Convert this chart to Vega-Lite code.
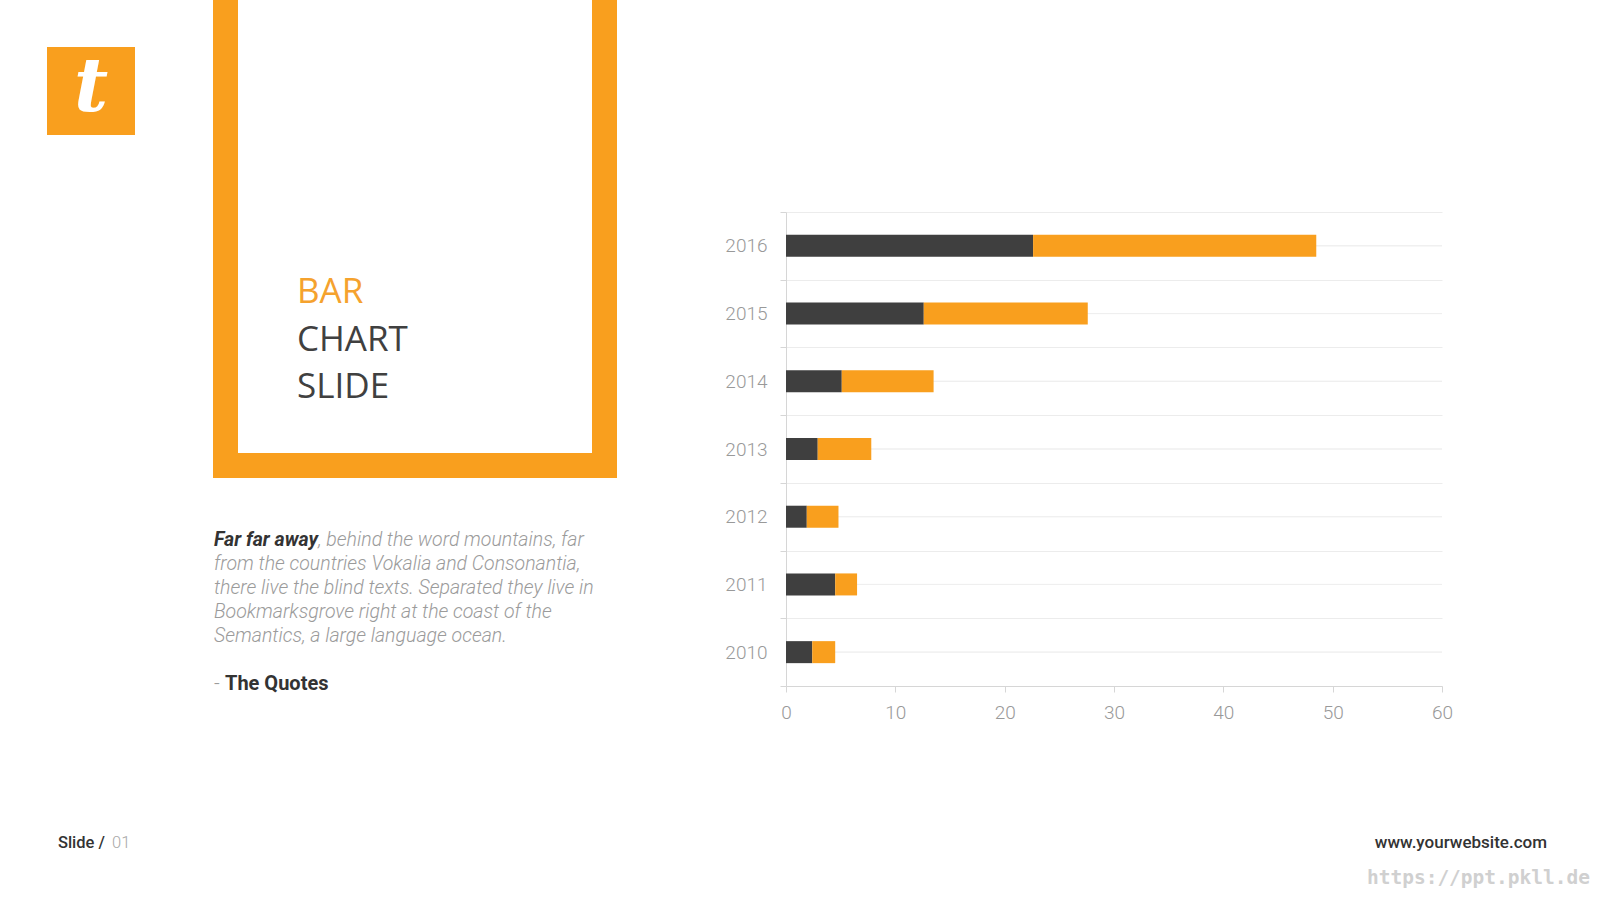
{
  "$schema": "https://vega.github.io/schema/vega-lite/v6.json",
  "background": "#ffffff",
  "padding": {"left": 47, "top": 0, "right": 10, "bottom": 4},
  "config": {"view": {"stroke": null}},
  "spacing": 0,
  "hconcat": [
    {
      "bounds": "flush",
      "spacing": 0,
      "vconcat": [
        {"width": 88, "height": 47, "data": {"values": [{}]}, "mark": {"type": "text", "text": ""}, "encoding": {}},
        {
          "width": 88, "height": 88, "data": {"values": [{}]},
          "layer": [
            {"mark": {"type": "rect", "color": "#f99f1e"}, "encoding": {}},
            {"mark": {"type": "text", "text": "t", "font": "DejaVu Serif", "fontStyle": "italic", "fontWeight": "bold", "fontSize": 74, "color": "#ffffff", "align": "center", "baseline": "middle", "dy": -2}, "encoding": {}}
          ]
        },
        {"width": 88, "height": 701, "data": {"values": [{}]}, "mark": {"type": "text", "text": ""}, "encoding": {}},
        {
          "width": 58, "height": 24, "data": {"values": [{}]},
          "layer": [
            {"mark": {"type": "text", "text": "Slide /", "align": "right", "baseline": "alphabetic", "font": "Roboto", "fontSize": 16.5, "fontWeight": 500, "color": "#333333"}, "encoding": {"x": {"value": "width"}}},
            {"mark": {"type": "text", "text": "01", "align": "left", "baseline": "alphabetic", "dx": 7, "font": "Roboto", "fontSize": 16.5, "fontWeight": 300, "color": "#a8a8a8"}, "encoding": {"x": {"value": "width"}}}
          ]
        }
      ]
    },
    {"width": 78, "height": 20, "data": {"values": [{}]}, "mark": {"type": "text", "text": ""}, "encoding": {}},
    {
      "spacing": 0,
      "vconcat": [
        {
          "spacing": 0,
          "hconcat": [
            {"width": 25, "height": 478, "data": {"values": [{}]}, "mark": {"type": "rect", "color": "#f99f1e"}, "encoding": {}},
            {
              "bounds": "flush",
              "spacing": 0,
              "vconcat": [
                {"width": 354, "height": 303, "data": {"values": [{}]}, "mark": {"type": "text", "text": ""}, "encoding": {}},
                {
                  "width": 118, "height": 95,
                  "data": {"values": [{"word": "BAR"}, {"word": "CHART"}, {"word": "SLIDE"}]},
                  "mark": {"type": "text", "align": "left", "baseline": "alphabetic", "font": "Open Sans", "fontSize": 35},
                  "encoding": {
                    "y": {"field": "word", "type": "ordinal", "scale": {"type": "point", "padding": 0, "domain": ["BAR", "CHART", "SLIDE"]}, "axis": null},
                    "text": {"field": "word"},
                    "color": {"condition": {"test": "datum.word === 'BAR'", "value": "#f5a22e"}, "value": "#404040"}
                  }
                },
                {"width": 354, "height": 55, "data": {"values": [{}]}, "mark": {"type": "text", "text": ""}, "encoding": {}},
                {"width": 354, "height": 25, "data": {"values": [{}]}, "mark": {"type": "rect", "color": "#f99f1e"}, "encoding": {}}
              ]
            },
            {"width": 25, "height": 478, "data": {"values": [{}]}, "mark": {"type": "rect", "color": "#f99f1e"}, "encoding": {}}
          ]
        },
        {"width": 404, "height": 44, "data": {"values": [{}]}, "mark": {"type": "text", "text": ""}, "encoding": {}},
        {
          "width": 2, "height": 192,
          "data": {"values": [
            {"line": 1, "part": "lead", "text": "Far far away"},
            {"line": 1, "part": "rest", "text": ", behind the word mountains, far"},
            {"line": 2, "part": "body", "text": "from the countries Vokalia and Consonantia,"},
            {"line": 3, "part": "body", "text": "there live the blind texts. Separated they live in"},
            {"line": 4, "part": "body", "text": "Bookmarksgrove right at the coast of the"},
            {"line": 5, "part": "body", "text": "Semantics, a large language ocean."},
            {"line": 7, "part": "dash", "text": "-"},
            {"line": 7, "part": "sig", "text": "The Quotes"}
          ]},
          "encoding": {
            "y": {"field": "line", "type": "ordinal", "scale": {"type": "point", "padding": 0, "domain": [0, 1, 2, 3, 4, 5, 6, 7, 8]}, "axis": null},
            "text": {"field": "text"}
          },
          "layer": [
            {"transform": [{"filter": "datum.part === 'lead'"}], "mark": {"type": "text", "align": "left", "baseline": "alphabetic", "font": "Roboto", "fontSize": 19.5, "fontStyle": "italic", "fontWeight": "bold", "color": "#333333"}},
            {"transform": [{"filter": "datum.part === 'rest'"}], "mark": {"type": "text", "align": "left", "baseline": "alphabetic", "dx": 104, "font": "Roboto", "fontSize": 19.5, "fontStyle": "italic", "fontWeight": 300, "color": "#9b9b9b"}},
            {"transform": [{"filter": "datum.part === 'body'"}], "mark": {"type": "text", "align": "left", "baseline": "alphabetic", "font": "Roboto", "fontSize": 19.5, "fontStyle": "italic", "fontWeight": 300, "color": "#9b9b9b"}},
            {"transform": [{"filter": "datum.part === 'dash'"}], "mark": {"type": "text", "align": "left", "baseline": "alphabetic", "font": "Roboto", "fontSize": 20, "fontWeight": 300, "color": "#9b9b9b"}},
            {"transform": [{"filter": "datum.part === 'sig'"}], "mark": {"type": "text", "align": "left", "baseline": "alphabetic", "dx": 11, "font": "Roboto", "fontSize": 20, "fontWeight": "bold", "color": "#333333"}}
          ]
        }
      ]
    },
    {"width": 107, "height": 20, "data": {"values": [{}]}, "mark": {"type": "text", "text": ""}, "encoding": {}},
    {
      "bounds": "flush",
      "spacing": 0,
      "vconcat": [
        {"width": 656, "height": 212, "data": {"values": [{}]}, "mark": {"type": "text", "text": ""}, "encoding": {}},
        {
          "width": 656, "height": 474,
          "data": {"values": [
            {"year": "2010", "series": "Series 1", "value": 2.4},
            {"year": "2010", "series": "Series 2", "value": 2.1},
            {"year": "2011", "series": "Series 1", "value": 4.5},
            {"year": "2011", "series": "Series 2", "value": 2.0},
            {"year": "2012", "series": "Series 1", "value": 1.9},
            {"year": "2012", "series": "Series 2", "value": 2.9},
            {"year": "2013", "series": "Series 1", "value": 2.9},
            {"year": "2013", "series": "Series 2", "value": 4.9},
            {"year": "2014", "series": "Series 1", "value": 5.1},
            {"year": "2014", "series": "Series 2", "value": 8.4},
            {"year": "2015", "series": "Series 1", "value": 12.6},
            {"year": "2015", "series": "Series 2", "value": 15.0},
            {"year": "2016", "series": "Series 1", "value": 22.6},
            {"year": "2016", "series": "Series 2", "value": 25.9}
          ]},
          "encoding": {
            "y": {
              "field": "year", "type": "ordinal", "sort": "descending",
              "scale": {"paddingInner": 0, "paddingOuter": 0},
              "axis": {
                "title": null, "tickBand": "extent",
                "domain": true, "domainColor": "#d6d6d6",
                "ticks": true, "tickColor": "#d6d6d6", "tickSize": 6,
                "grid": true, "gridColor": "#ececec",
                "labelFont": "Roboto", "labelFontWeight": 300, "labelFontSize": 19, "labelColor": "#999999", "labelPadding": 13
              }
            }
          },
          "layer": [
            {"mark": {"type": "rule", "color": "#efefef", "strokeWidth": 1}},
            {
              "mark": {"type": "bar", "height": {"band": 0.325}},
              "encoding": {
                "x": {
                  "field": "value", "type": "quantitative", "stack": "zero",
                  "scale": {"domain": [0, 60], "nice": false},
                  "axis": {
                    "title": null, "values": [0, 10, 20, 30, 40, 50, 60], "grid": false,
                    "domainColor": "#d6d6d6", "tickColor": "#d6d6d6", "tickSize": 6,
                    "labelFont": "Roboto", "labelFontWeight": 300, "labelFontSize": 19, "labelColor": "#999999",
                    "labelPadding": 11, "labelFlush": false
                  }
                },
                "color": {"field": "series", "type": "nominal", "scale": {"domain": ["Series 1", "Series 2"], "range": ["#3f3f3f", "#f99f1e"]}, "legend": null},
                "order": {"field": "series"}
              }
            }
          ]
        },
        {"width": 656, "height": 150, "data": {"values": [{}]}, "mark": {"type": "text", "text": ""}, "encoding": {}},
        {"width": 761, "height": 24, "data": {"values": [{}]}, "mark": {"type": "text", "text": "www.yourwebsite.com", "align": "right", "baseline": "alphabetic", "font": "Roboto", "fontSize": 17, "fontWeight": 500, "color": "#333333"}, "encoding": {"x": {"value": "width"}}},
        {"width": 656, "height": 12, "data": {"values": [{}]}, "mark": {"type": "text", "text": ""}, "encoding": {}},
        {"width": 804, "height": 24, "data": {"values": [{}]}, "mark": {"type": "text", "text": "https://ppt.pkll.de", "align": "right", "baseline": "alphabetic", "font": "DejaVu Sans Mono", "fontSize": 19.5, "fontWeight": "bold", "color": "#d0d0d0"}, "encoding": {"x": {"value": "width"}}}
      ]
    }
  ]
}
